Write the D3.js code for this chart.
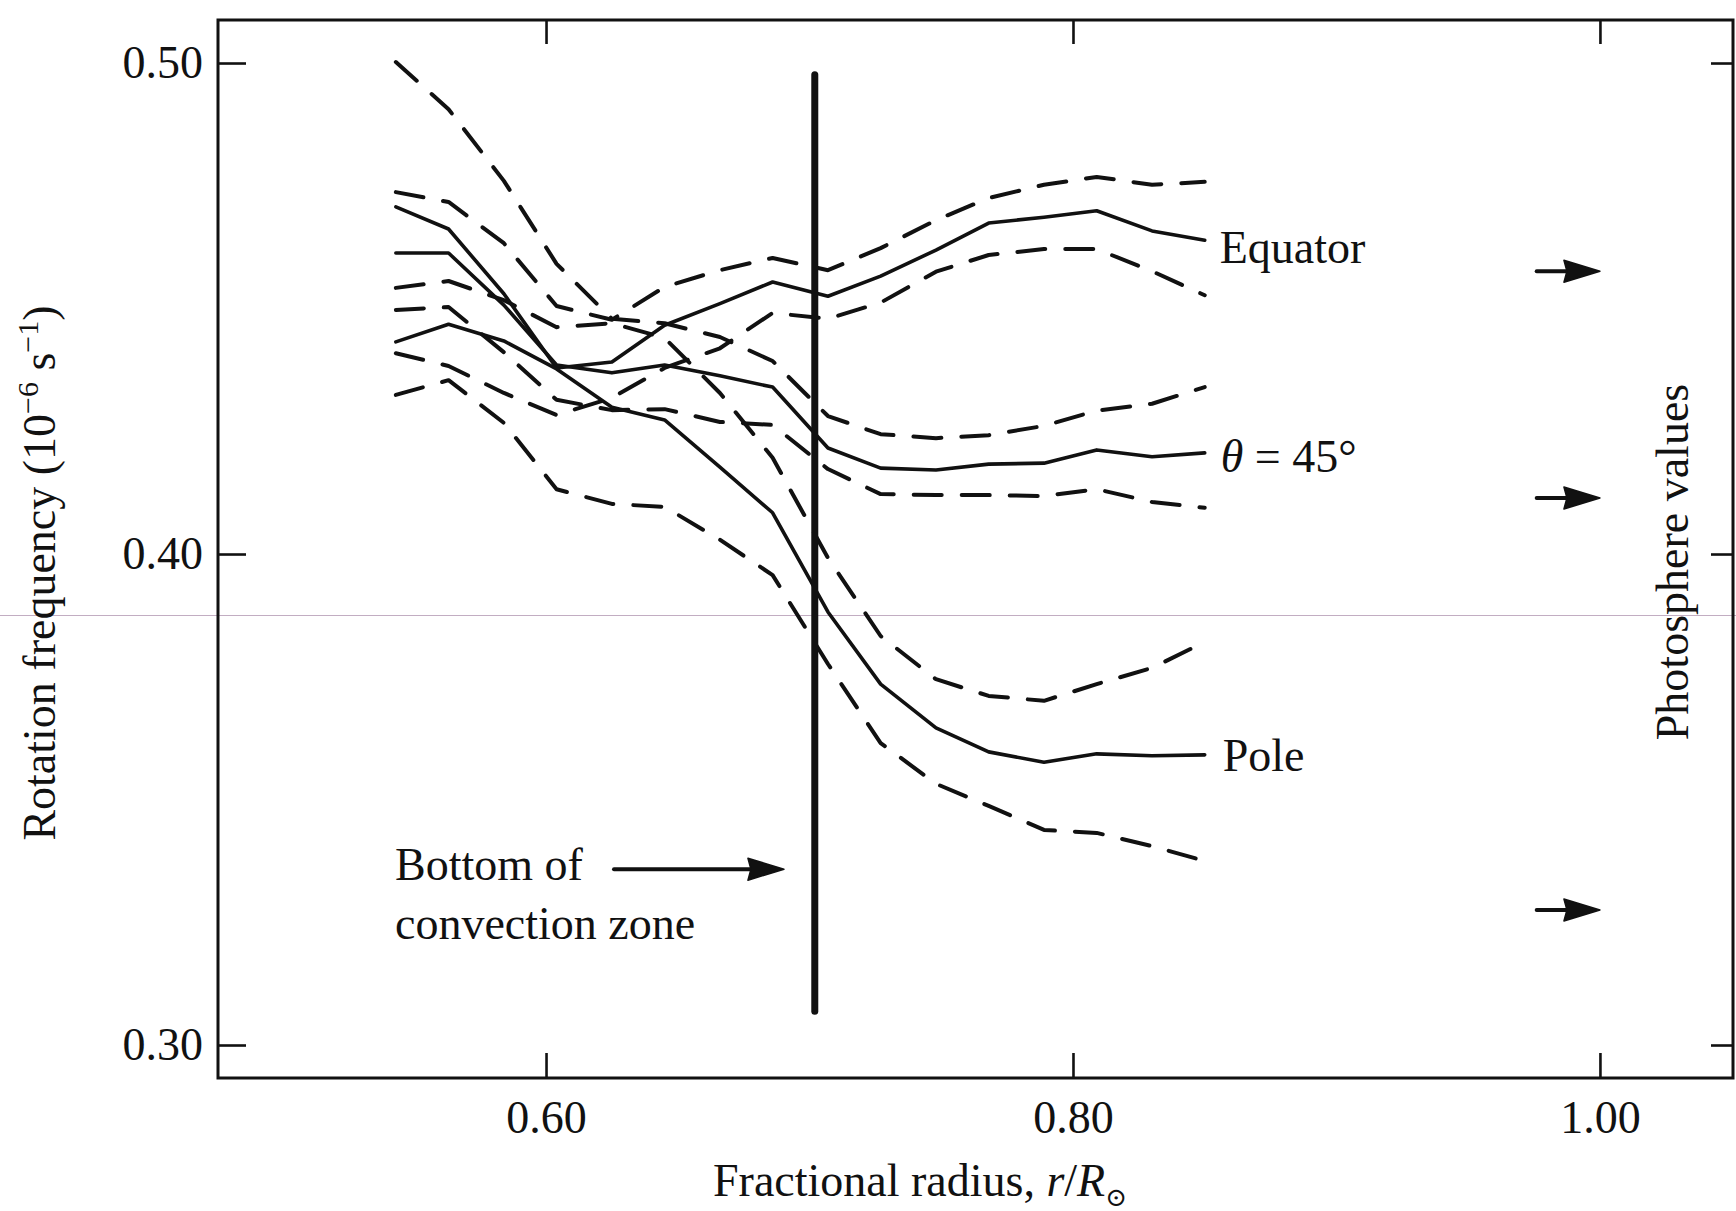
<!DOCTYPE html>
<html>
<head>
<meta charset="utf-8">
<script src="https://cdn.jsdelivr.net/npm/d3@7"></script>
<style>
    body { margin: 0; background: #fff; }
    svg { display: block; background: #fff; }
    text { font-family: "Liberation Serif", "DejaVu Serif", serif; fill: #111; }
</style>
</head>
<body>
<svg id="chart" width="1736" height="1211"></svg>
<script>
// fractional radius of the inversion points
const radius = [0.543, 0.563, 0.584, 0.604, 0.625, 0.645, 0.666, 0.686, 0.707, 0.727, 0.748, 0.768, 0.789, 0.809, 0.830, 0.850];

// rotation frequency, 10^-6 s^-1
const equator      = [0.4707, 0.4662, 0.4530, 0.4379, 0.4391, 0.4466, 0.4510, 0.4554, 0.4525, 0.4566, 0.4619, 0.4674, 0.4686, 0.4699, 0.4658, 0.4639];
const equatorUpper = [0.4737, 0.4717, 0.4633, 0.4505, 0.4477, 0.4544, 0.4578, 0.4603, 0.4578, 0.4623, 0.4680, 0.4725, 0.4752, 0.4768, 0.4752, 0.4758];
const equatorLower = [0.4409, 0.4383, 0.4328, 0.4283, 0.4318, 0.4379, 0.4419, 0.4491, 0.4479, 0.4512, 0.4575, 0.4609, 0.4621, 0.4621, 0.4576, 0.4527];
const lat45        = [0.4613, 0.4613, 0.4507, 0.4385, 0.4369, 0.4385, 0.4363, 0.4340, 0.4216, 0.4175, 0.4171, 0.4183, 0.4185, 0.4212, 0.4198, 0.4206];
const lat45Upper   = [0.5002, 0.4906, 0.4760, 0.4591, 0.4479, 0.4470, 0.4442, 0.4393, 0.4281, 0.4244, 0.4236, 0.4242, 0.4261, 0.4292, 0.4306, 0.4340];
const lat45Lower   = [0.4497, 0.4503, 0.4411, 0.4314, 0.4293, 0.4295, 0.4269, 0.4263, 0.4173, 0.4122, 0.4120, 0.4120, 0.4118, 0.4132, 0.4106, 0.4094];
const pole         = [0.4432, 0.4468, 0.4434, 0.4377, 0.4299, 0.4273, 0.4177, 0.4084, 0.3882, 0.3735, 0.3646, 0.3597, 0.3576, 0.3593, 0.3589, 0.3591];
const poleUpper    = [0.4542, 0.4556, 0.4517, 0.4462, 0.4470, 0.4440, 0.4328, 0.4196, 0.3992, 0.3833, 0.3745, 0.3711, 0.3701, 0.3735, 0.3768, 0.3821];
const poleLower    = [0.4324, 0.4354, 0.4267, 0.4132, 0.4102, 0.4096, 0.4029, 0.3957, 0.3776, 0.3615, 0.3532, 0.3487, 0.3438, 0.3432, 0.3405, 0.3375];

// photosphere values (equator, 45°, pole) at r = 1
const photosphere = [0.4576, 0.4114, 0.3275];
const photosphereR = 1.00;

// bottom of convection zone
const convectionBase = 0.702;
const convectionSpan = [0.3069, 0.4976];
const convectionArrow = {value: 0.3358, from: 0.6258, to: 0.6903};

// axes
const xTicks = [0.60, 0.80, 1.00];
const yTicks = [0.30, 0.40, 0.50];
const xDomain = [0.4755, 1.0505];
const yDomain = [0.29328, 0.50876];

class rotationChart {

    constructor({svg}) {
        this.svg = d3.select(svg);
        // plot frame in page pixels
        this.frame = {left: 218, right: 1733, top: 20, bottom: 1078};
        this.fontSize = 46;
    }

    create() {
        this.scaleX = d3.scaleLinear().domain(xDomain).range([this.frame.left, this.frame.right]);
        this.scaleY = d3.scaleLinear().domain(yDomain).range([this.frame.bottom, this.frame.top]);
        this._drawScanLine();
        this._drawAxes();
        this._drawFrame();
        this._drawSeries();
        this._drawConvection();
        this._drawPhotosphere();
        this._drawLabels();
    }

    // faint line from the scan
    _drawScanLine() {
        this.svg.append("line")
            .attr("x1", 0).attr("x2", 1736)
            .attr("y1", 615.5).attr("y2", 615.5)
            .attr("stroke", "#a88aa8").attr("stroke-opacity", 0.7).attr("stroke-width", 1);
    }

    // ticks on all four sides, labels on bottom and left
    _styleAxis(g) {
        g.select(".domain").remove();
        g.attr("font-family", null).attr("font-size", null).attr("color", "#111");
        g.selectAll("line").attr("stroke-width", 2.6);
        g.selectAll("text").style("font-size", this.fontSize + "px");
    }

    _drawAxes() {
        const f = this.frame;
        const fmt = d3.format(".2f");
        this.svg.append("g")
            .attr("transform", `translate(0,${f.bottom})`)
            .call(d3.axisBottom(this.scaleX).tickValues(xTicks).tickSizeInner(-25).tickSizeOuter(0).tickPadding(22).tickFormat(fmt))
            .call(g => this._styleAxis(g));
        this.svg.append("g")
            .attr("transform", `translate(0,${f.top})`)
            .call(d3.axisTop(this.scaleX).tickValues(xTicks).tickSizeInner(-24).tickSizeOuter(0).tickFormat(""))
            .call(g => this._styleAxis(g));
        this.svg.append("g")
            .attr("transform", `translate(${f.left},0)`)
            .call(d3.axisLeft(this.scaleY).tickValues(yTicks).tickSizeInner(-28).tickSizeOuter(0).tickPadding(15).tickFormat(fmt))
            .call(g => this._styleAxis(g));
        this.svg.append("g")
            .attr("transform", `translate(${f.right},0)`)
            .call(d3.axisRight(this.scaleY).tickValues(yTicks).tickSizeInner(-22).tickSizeOuter(0).tickFormat(""))
            .call(g => this._styleAxis(g));
    }

    _drawFrame() {
        const f = this.frame;
        this.svg.append("rect")
            .attr("x", f.left).attr("y", f.top)
            .attr("width", f.right - f.left).attr("height", f.bottom - f.top)
            .attr("fill", "none").attr("stroke", "#111").attr("stroke-width", 3);
    }

    // solid curves with dashed error bounds
    _drawSeries() {
        const series = [
            {values: lat45Upper, dashed: true},
            {values: equatorUpper, dashed: true},
            {values: equatorLower, dashed: true},
            {values: lat45Lower, dashed: true},
            {values: poleUpper, dashed: true},
            {values: poleLower, dashed: true},
            {values: equator, dashed: false},
            {values: lat45, dashed: false},
            {values: pole, dashed: false}
        ];
        const line = d3.line()
            .x(d => this.scaleX(d[0]))
            .y(d => this.scaleY(d[1]));
        this.svg.append("g")
            .selectAll("path")
            .data(series)
            .enter().append("path")
            .attr("d", s => line(radius.map((r, i) => [r, s.values[i]])))
            .attr("fill", "none")
            .attr("stroke", "#111")
            .attr("stroke-width", s => s.dashed ? 4 : 3.6)
            .attr("stroke-linejoin", "round")
            .attr("stroke-linecap", "round")
            .attr("stroke-dasharray", s => s.dashed ? "28,20" : null);
    }

    _arrow(g, x1, x2, y, head, half, width) {
        g.append("line")
            .attr("x1", x1).attr("x2", x2 - head + 4).attr("y1", y).attr("y2", y)
            .attr("stroke", "#111").attr("stroke-width", width).attr("stroke-linecap", "round");
        g.append("path")
            .attr("d", `M${x2},${y}L${x2 - head},${y - half}L${x2 - head + 3},${y}L${x2 - head},${y + half}Z`)
            .attr("fill", "#111").attr("stroke", "#111").attr("stroke-width", 1.5).attr("stroke-linejoin", "round");
    }

    // bottom of convection zone marker
    _drawConvection() {
        const g = this.svg.append("g");
        g.append("line")
            .attr("x1", this.scaleX(convectionBase)).attr("x2", this.scaleX(convectionBase))
            .attr("y1", this.scaleY(convectionSpan[0])).attr("y2", this.scaleY(convectionSpan[1]))
            .attr("stroke", "#111").attr("stroke-width", 7).attr("stroke-linecap", "round");
        this._arrow(g, this.scaleX(convectionArrow.from), this.scaleX(convectionArrow.to),
            this.scaleY(convectionArrow.value), 36, 11, 4);
        g.append("text").attr("x", 395).attr("y", 880).style("font-size", this.fontSize + "px").text("Bottom of");
        g.append("text").attr("x", 395).attr("y", 939).style("font-size", this.fontSize + "px").text("convection zone");
    }

    // arrows pointing at photosphere values
    _drawPhotosphere() {
        const g = this.svg.append("g");
        photosphere.forEach(v => {
            this._arrow(g, this.scaleX(photosphereR - 0.024), this.scaleX(photosphereR), this.scaleY(v), 36, 11, 4);
        });
    }

    _drawLabels() {
        const fs = this.fontSize + "px";
        const xEnd = this.scaleX(radius[radius.length - 1]);
        const yEnd = arr => this.scaleY(arr[arr.length - 1]);

        this.svg.append("text").attr("x", xEnd + 15).attr("y", yEnd(equator) + 23).style("font-size", fs).text("Equator");

        const t45 = this.svg.append("text").attr("x", xEnd + 16).attr("y", yEnd(lat45) + 19).style("font-size", fs);
        t45.append("tspan").style("font-style", "italic").text("θ");
        t45.append("tspan").text(" = 45°");

        this.svg.append("text").attr("x", xEnd + 18).attr("y", yEnd(pole) + 16).style("font-size", fs).text("Pole");

        // x axis title
        const xt = this.svg.append("text")
            .attr("x", 920).attr("y", 1196)
            .attr("text-anchor", "middle")
            .style("font-size", fs);
        xt.append("tspan").text("Fractional radius, ");
        xt.append("tspan").style("font-style", "italic").text("r");
        xt.append("tspan").text("/");
        xt.append("tspan").style("font-style", "italic").text("R");
        xt.append("tspan").attr("dy", 10).style("font-size", "26px").text("⊙");

        // y axis title
        const yt = this.svg.append("text")
            .attr("transform", "translate(55,573) rotate(-90)")
            .attr("text-anchor", "middle")
            .style("font-size", fs);
        yt.append("tspan").text("Rotation frequency (10");
        yt.append("tspan").attr("dy", -17).style("font-size", "30px").text("−6");
        yt.append("tspan").attr("dy", 17).text(" s");
        yt.append("tspan").attr("dy", -17).style("font-size", "30px").text("−1");
        yt.append("tspan").attr("dy", 17).text(")");

        // right side title
        this.svg.append("text")
            .attr("transform", "translate(1688,562) rotate(-90)")
            .attr("text-anchor", "middle")
            .style("font-size", fs)
            .text("Photosphere values");
    }
}

new rotationChart({svg: document.getElementById("chart")}).create();
</script>
</body>
</html>
